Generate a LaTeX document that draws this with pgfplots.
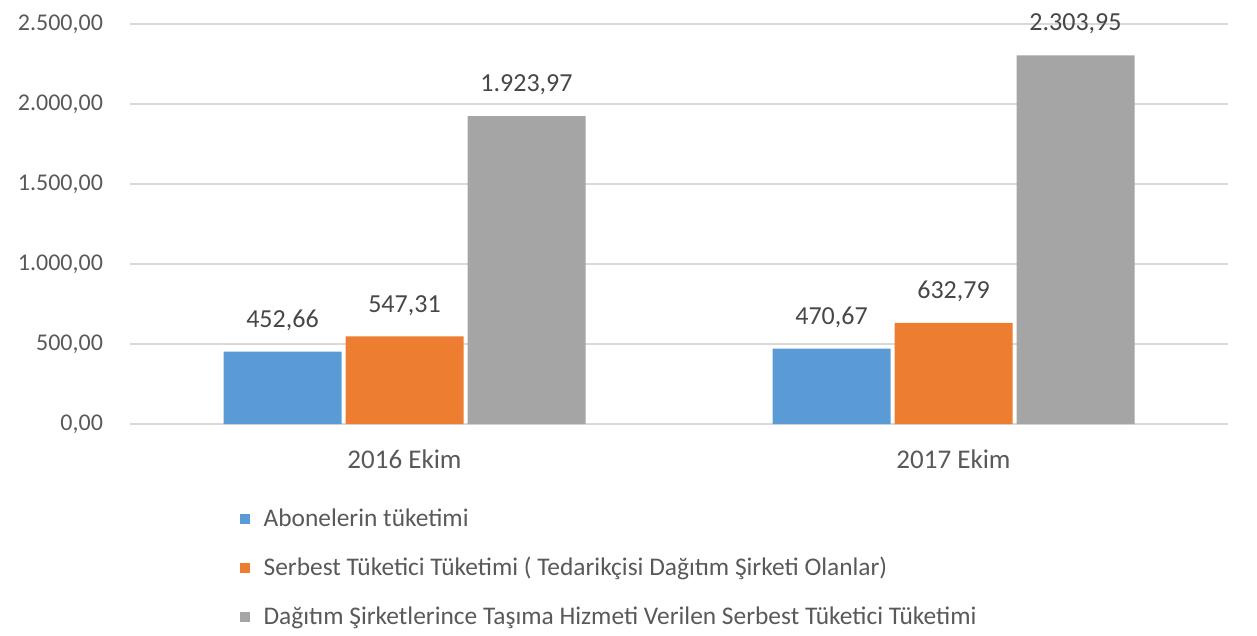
\documentclass[border=0pt]{standalone}
\usepackage{fontspec}
\setmainfont{Carlito}
\usepackage{pgfplots}
\pgfplotsset{compat=1.18}
\definecolor{sBlue}{HTML}{5B9BD5}
\definecolor{sOrange}{HTML}{ED7D31}
\definecolor{sGray}{HTML}{A5A5A5}
\definecolor{txt}{HTML}{595959}
\definecolor{gridc}{HTML}{D9D9D9}
\begin{document}
\begin{tikzpicture}
\begin{axis}[
  scale only axis,
  width=549pt, height=200pt,
  ybar=2pt, bar width=59pt,
  xmin=-0.5, xmax=1.5,
  ymin=0, ymax=2500,
  ytick={0,500,...,2500},
  xtick={0,1},
  xticklabels={2016 Ekim, 2017 Ekim},
  major x tick style={draw=none},
  extra x ticks={-0.5,0.5,1.5},
  extra x tick labels={},
  extra x tick style={grid=none, major tick length=5pt, tick align=outside, tick style={draw=gridc}},
  ymajorgrids, grid style={draw=gridc, line width=0.8pt},
  axis x line*=bottom, axis y line*=left,
  x axis line style={draw=gridc, line width=0.8pt, -},
  y axis line style={draw=none},
  ytick style={draw=none},
  tick label style={text=txt},
  yticklabel style={xshift=-10pt, font=\fontsize{12}{14}\selectfont},
  xticklabel style={yshift=-5pt, font=\fontsize{13.5}{15}\selectfont},
  /pgf/number format/.cd, fixed, fixed zerofill, precision=2, use comma, 1000 sep={.}, assume math mode=true,
  /pgfplots/.cd,
  nodes near coords,
  nodes near coords style={text=txt!80!black, anchor=south, yshift=7pt, font=\fontsize{13}{15}\selectfont},
  legend style={at={(0.094,-0.19)}, anchor=north west, draw=none, fill=none,
    font=\fontsize{12.7}{14}\selectfont, text=txt, row sep=10pt,
    legend cell align=left},
  legend image code/.code={\fill[#1] (0pt,-2.6pt) rectangle (5.2pt,2.6pt); \path (10pt,0);},
]
\addplot[fill=sBlue, draw=none] coordinates {(0,452.66) (1,470.67)};
\addplot[fill=sOrange, draw=none] coordinates {(0,547.31) (1,632.79)};
\addplot[fill=sGray, draw=none] coordinates {(0,1923.97) (1,2303.95)};
\legend{Abonelerin tüketimi, Serbest Tüketici Tüketimi ( Tedarikçisi Dağıtım Şirketi Olanlar), Dağıtım Şirketlerince Taşıma Hizmeti Verilen Serbest Tüketici Tüketimi}
\end{axis}
\path ([xshift=-65pt,yshift=-105.5pt]current axis.south west) rectangle ([xshift=14.5pt,yshift=12pt]current axis.north east);
\end{tikzpicture}
\end{document}
